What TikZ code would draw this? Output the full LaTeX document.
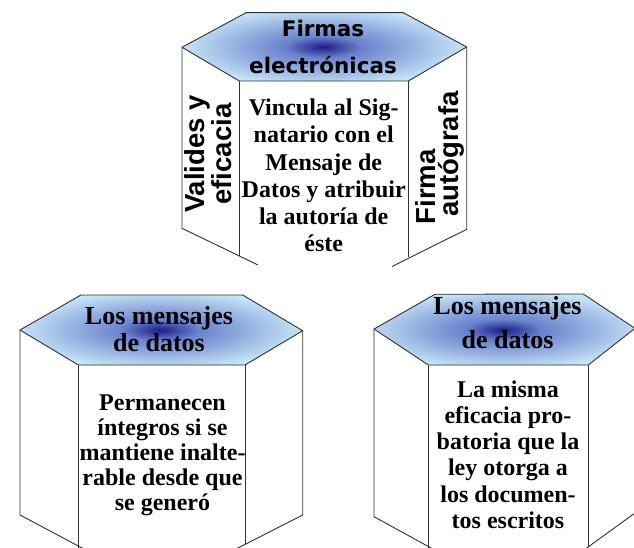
\documentclass[tikz,border=0pt]{standalone}
\usepackage{fontspec}
\setmainfont{Liberation Serif}
\newfontfamily\labsans{DejaVu Sans}
\newfontfamily\sidesans{Liberation Sans}
\definecolor{glowdk}{RGB}{28,28,135}
\definecolor{glowmid}{RGB}{105,130,205}
\definecolor{glowlt}{RGB}{197,228,246}
\definecolor{edgecol}{RGB}{50,50,50}
\pgfdeclareradialshading{glow}{\pgfpoint{0bp}{0bp}}{color(0bp)=(glowdk); color(6bp)=(glowmid); color(22bp)=(glowlt); color(50bp)=(glowlt)}
\tikzset{
  edgeline/.style={draw=edgecol, line width=0.9pt, line join=round},
  txt/.style={inner sep=0pt, outer sep=0pt, align=center, anchor=base, text=black},
  toplab/.style={txt, font=\labsans\bfseries\fontsize{21.5}{37.5}\selectfont},
  sidelab/.style={txt, rotate=90, font=\sidesans\bfseries\fontsize{27.5}{24}\selectfont},
  bodytxt/.style={txt, font=\bfseries\fontsize{24}{#1}\selectfont},
  titletxt/.style={txt, font=\bfseries\fontsize{26}{#1}\selectfont},
}
\begin{document}
\begin{tikzpicture}[x=1pt,y=-1pt]
\clip (0,0) rectangle (634,548);
\fill[white] (0,0) rectangle (634,548);

% ---------- top prism ----------
\coordinate (t1) at (246,12.7);
\coordinate (t2) at (403.3,12.7);
\coordinate (t3) at (466.7,47);
\coordinate (t4) at (408.3,81);
\coordinate (t5) at (239.3,81);
\coordinate (t6) at (182,47.3);
\coordinate (tlb) at (182,228.3);
\coordinate (tle) at (258,265);
\coordinate (trb) at (466.7,229.3);
\coordinate (tre) at (392,266.5);
\coordinate (tfl) at (239.3,256);
\coordinate (tfr) at (408.3,257);
\draw[edgeline] (t6) -- (tlb) -- (tle);
\draw[edgeline] (t3) -- (trb) -- (tre);
\draw[edgeline] (t5) -- (tfl);
\draw[edgeline] (t4) -- (tfr);
\fill[glowlt] (t1) -- (t2) -- (t3) -- (t4) -- (t5) -- (t6) -- cycle;
\begin{scope}
  \clip (t1) -- (t2) -- (t3) -- (t4) -- (t5) -- (t6) -- cycle;
  \shade[shading=glow] (323,47) ellipse [x radius=160pt, y radius=44pt];
\end{scope}
\draw[edgeline] (t1) -- (t2) -- (t3) -- (t4) -- (t5) -- (t6) -- cycle;

% multi-line nodes: base anchor = baseline of last line
\node[toplab] (toptitle) at (323,74) {Firmas\\electrónicas};
\node[bodytxt=27] (topbody) at (323.7,251) {Vincula al Sig-\\natario con el\\Mensaje de\\Datos y atribuir\\la autoría de\\éste};
\node[sidelab] (valides) at (231.3,154) {Valides y\\eficacia};
\node[sidelab] (firma) at (435.7,187) {Firma};
\node[sidelab] (autografa) at (458.3,154) {autógrafa};

% ---------- bottom-left prism ----------
\coordinate (b1) at (81,295);
\coordinate (b2) at (242.7,295);
\coordinate (b3) at (302.7,330.7);
\coordinate (b4) at (245,365);
\coordinate (b5) at (78.3,365);
\coordinate (b6) at (20,330);
\coordinate (blb) at (20,515);
\coordinate (ble) at (84,549);
\coordinate (brb) at (302.7,515);
\coordinate (bre) at (236,549);
\coordinate (bfl) at (78.3,550);
\coordinate (bfr) at (245,544);
\draw[edgeline] (b6) -- (blb) -- (ble);
\draw[edgeline] (b3) -- (brb) -- (bre);
\draw[edgeline] (b5) -- (bfl);
\draw[edgeline] (b4) -- (bfr);
\fill[glowlt] (b1) -- (b2) -- (b3) -- (b4) -- (b5) -- (b6) -- cycle;
\begin{scope}
  \clip (b1) -- (b2) -- (b3) -- (b4) -- (b5) -- (b6) -- cycle;
  \shade[shading=glow] (160,330) ellipse [x radius=160pt, y radius=44pt];
\end{scope}
\draw[edgeline] (b1) -- (b2) -- (b3) -- (b4) -- (b5) -- (b6) -- cycle;

\node[titletxt=27.4] (bltitle) at (159,351.7) {Los mensajes\\de datos};
\node[bodytxt=25] (blbody) at (162.5,510) {Permanecen\\íntegros si se\\mantiene inalte-\\rable desde que\\se generó};

% ---------- bottom-right prism ----------
\coordinate (c1) at (435,294.3);
\coordinate (c2) at (583.3,294);
\coordinate (c3) at (635,328.3);
\coordinate (c4) at (588.3,365);
\coordinate (c5) at (428.3,365);
\coordinate (c6) at (374,329);
\coordinate (clb) at (374,516.7);
\coordinate (cle) at (432,548.5);
\coordinate (crb) at (635,513);
\coordinate (cre) at (586,548.5);
\coordinate (cfl) at (428.3,550);
\coordinate (cfr) at (588.3,547);
\draw[edgeline] (c6) -- (clb) -- (cle);
\draw[edgeline] (c3) -- (crb) -- (cre);
\draw[edgeline] (c5) -- (cfl);
\draw[edgeline] (c4) -- (cfr);
\fill[glowlt] (c1) -- (c2) -- (c3) -- (c4) -- (c5) -- (c6) -- cycle;
\begin{scope}
  \clip (c1) -- (c2) -- (c3) -- (c4) -- (c5) -- (c6) -- cycle;
  \shade[shading=glow] (503,330) ellipse [x radius=160pt, y radius=44pt];
\end{scope}
\draw[edgeline] (c1) -- (c2) -- (c3) -- (c4) -- (c5) -- (c6) -- cycle;

\node[titletxt=34.5] (brtitle) at (507.5,348.8) {Los mensajes\\de datos};
\node[bodytxt=26.2] (brbody) at (508,528.3) {La misma\\eficacia pro-\\batoria que la\\ley otorga a\\los documen-\\tos escritos};
\end{tikzpicture}
\end{document}
